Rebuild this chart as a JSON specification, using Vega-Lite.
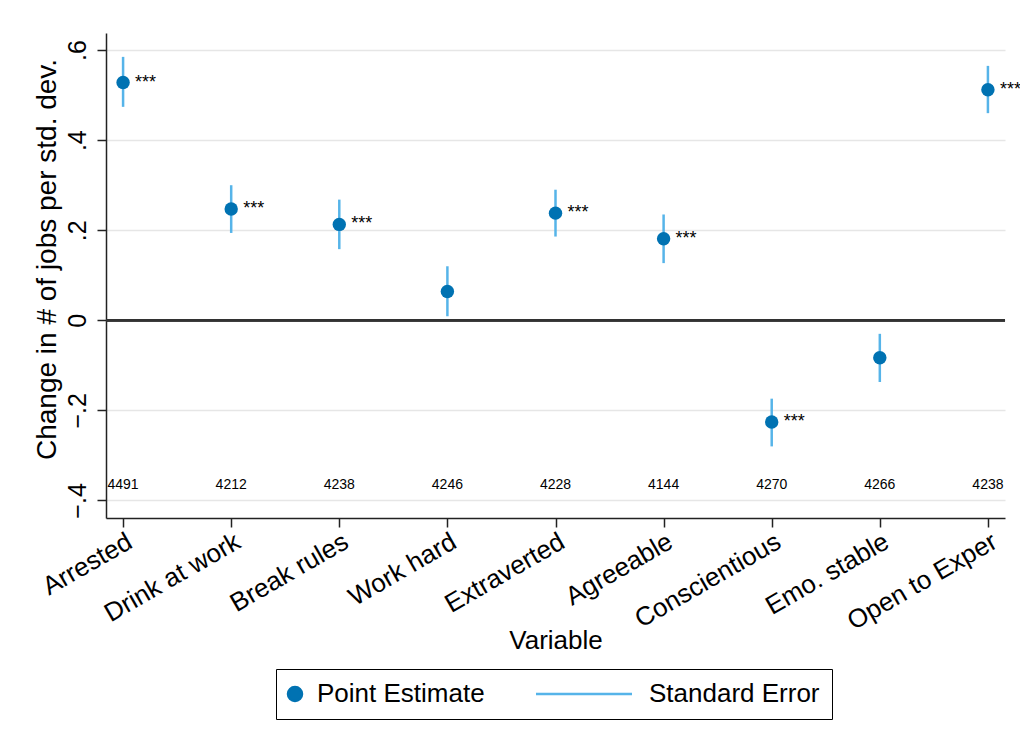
{
  "$schema": "https://vega.github.io/schema/vega-lite/v6.json",
  "autosize": "none",
  "width": 899,
  "height": 485,
  "padding": {"left": 106, "top": 33, "right": 15, "bottom": 231},
  "background": "white",
  "data": {"values": [
    {"var": "Arrested", "est": 0.528, "lo": 0.474, "hi": 0.585, "n": "4491", "stars": "***"},
    {"var": "Drink at work", "est": 0.247, "lo": 0.194, "hi": 0.300, "n": "4212", "stars": "***"},
    {"var": "Break rules", "est": 0.213, "lo": 0.158, "hi": 0.268, "n": "4238", "stars": "***"},
    {"var": "Work hard", "est": 0.064, "lo": 0.009, "hi": 0.120, "n": "4246", "stars": ""},
    {"var": "Extraverted", "est": 0.238, "lo": 0.186, "hi": 0.290, "n": "4228", "stars": "***"},
    {"var": "Agreeable", "est": 0.181, "lo": 0.127, "hi": 0.235, "n": "4144", "stars": "***"},
    {"var": "Conscientious", "est": -0.226, "lo": -0.280, "hi": -0.174, "n": "4270", "stars": "***"},
    {"var": "Emo. stable", "est": -0.083, "lo": -0.137, "hi": -0.030, "n": "4266", "stars": ""},
    {"var": "Open to Exper", "est": 0.512, "lo": 0.460, "hi": 0.565, "n": "4238", "stars": "***"}
  ]},
  "config": {
    "view": {"stroke": null},
    "font": "Liberation Sans",
    "axis": {
      "domainColor": "#222", "domainWidth": 1.5, "tickColor": "#222", "tickWidth": 1.5, "tickSize": 9,
      "labelColor": "#000", "titleColor": "#000", "labelFont": "Liberation Sans", "titleFont": "Liberation Sans",
      "titleFontWeight": "normal"
    }
  },
  "layer": [
    {
      "mark": {"type": "rule", "strokeWidth": 2.5},
      "encoding": {
        "x": {"field": "var", "type": "nominal", "sort": null, "scale": {"type": "point", "padding": 0.158},
              "axis": {"title": "Variable", "labelAngle": -30, "labelAlign": "right", "labelBaseline": "top", "labelFontSize": 26, "labelPadding": 1, "titleFontSize": 26, "titleBaseline": "alphabetic", "titleY": 130, "grid": false, "labelLimit": 400}},
        "y": {"field": "lo", "type": "quantitative", "scale": {"domain": [-0.439, 0.638], "nice": false, "zero": false},
              "axis": {"title": "Change in # of jobs per std. dev.", "values": [-0.4, -0.2, 0, 0.2, 0.4, 0.6],
                       "labelExpr": "datum.value == 0 ? '0' : replace(format(datum.value, '.1f'), '0.', '.')",
                       "labelAngle": -90, "labelAlign": "center", "labelBaseline": "alphabetic", "labelPadding": 12, "labelFontSize": 25,
                       "titleFontSize": 28, "titleAngle": -90, "titleBaseline": "alphabetic", "titleAlign": "center", "titleX": -51, "titleY": 226,
                       "grid": true, "gridColor": "#e6e6e6", "gridWidth": 1.5}},
        "y2": {"field": "hi"},
        "color": {"datum": "Standard Error", "type": "nominal",
                  "scale": {"domain": ["Point Estimate", "Standard Error"], "range": ["#0072B2", "#56B4E9"]},
                  "legend": {
                    "title": null, "orient": "none", "legendX": 170, "legendY": 636, "direction": "horizontal", "columns": 2,
                    "strokeColor": "#000", "padding": 12, "columnPadding": 46,
                    "labelFontSize": 26, "labelFont": "Liberation Sans", "labelColor": "#000", "labelLimit": 400,
                    "symbolSize": 196,
                    "encode": {
                      "symbols": {"update": {
                        "shape": {"signal": "datum.value === 'Standard Error' ? 'stroke' : 'circle'"},
                        "size": {"signal": "datum.value === 'Standard Error' ? 9216 : 196"},
                        "fill": {"signal": "datum.value === 'Standard Error' ? 'transparent' : '#0072B2'"},
                        "stroke": {"signal": "datum.value === 'Standard Error' ? '#56B4E9' : 'transparent'"},
                        "strokeWidth": {"signal": "2.5"},
                        "x": {"signal": "datum.value === 'Standard Error' ? 48 : 7"}
                      }},
                      "labels": {"update": {
                        "x": {"signal": "datum.value === 'Standard Error' ? 113 : 29"}
                      }}
                    }
                  }}
      }
    },
    {
      "mark": {"type": "rule", "color": "#333", "strokeWidth": 2},
      "encoding": {"y": {"datum": 0, "type": "quantitative"}}
    },
    {
      "mark": {"type": "point", "filled": true, "opacity": 1, "size": 180},
      "encoding": {
        "x": {"field": "var", "type": "nominal", "sort": null},
        "y": {"field": "est", "type": "quantitative"},
        "color": {"datum": "Point Estimate", "type": "nominal"}
      }
    },
    {
      "mark": {"type": "text", "align": "left", "baseline": "middle", "dx": 12, "dy": 0, "fontSize": 18, "color": "#000"},
      "encoding": {
        "x": {"field": "var", "type": "nominal", "sort": null},
        "y": {"field": "est", "type": "quantitative"},
        "text": {"field": "stars"}
      }
    },
    {
      "mark": {"type": "text", "align": "center", "baseline": "middle", "fontSize": 14, "color": "#000"},
      "encoding": {
        "x": {"field": "var", "type": "nominal", "sort": null},
        "y": {"datum": -0.365, "type": "quantitative"},
        "text": {"field": "n"}
      }
    }
  ]
}
